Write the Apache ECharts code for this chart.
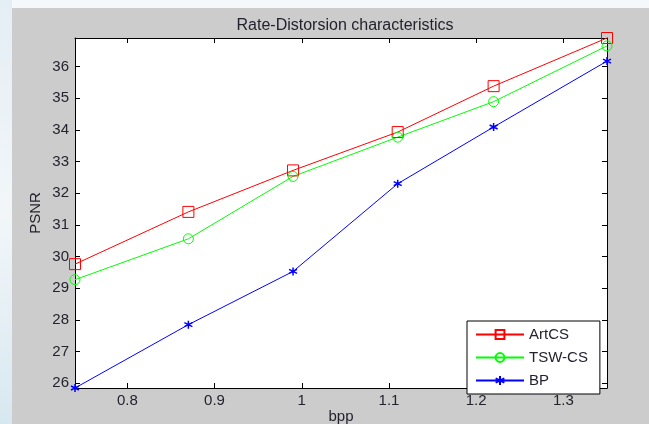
<!DOCTYPE html>
<html>
<head>
<meta charset="utf-8">
<script src="https://cdn.jsdelivr.net/npm/echarts@6/dist/echarts.min.js"></script>
<style>
html,body{margin:0;padding:0;background:#f4f8fb;}
#c{width:649px;height:424px;}
</style>
</head>
<body>
<div id="c"></div>
<script>
const bpp = [0.74, 0.87, 0.99, 1.11, 1.22, 1.35];
const artCS = [29.76, 31.41, 32.72, 33.93, 35.38, 36.9];
const tswCS = [29.27, 30.56, 32.53, 33.77, 34.89, 36.65];
const bp = [25.85, 27.85, 29.53, 32.3, 34.09, 36.17];
const xTicks = [0.8, 0.9, 1.0, 1.1, 1.2, 1.3];
const yTicks = [26, 27, 28, 29, 30, 31, 32, 33, 34, 35, 36];

const font = 'Liberation Sans, Arial, Helvetica, sans-serif';
const txt = '#232330';
const pair = a => bpp.map((x, i) => [x, a[i]]);
const star = 'path://M0,-5L0,5M-4.33,-2.5L4.33,2.5M-4.33,2.5L4.33,-2.5';

const chart = echarts.init(document.getElementById('c'));
function xAx(pos, labels) {
  return {
    type: 'value', position: pos, min: 0.74, max: 1.35,
    name: labels ? 'bpp' : '', nameLocation: 'middle', nameGap: 21, nameMoveOverlap: false,
    nameTextStyle: {fontFamily: font, fontSize: 15, color: txt},
    axisLine: {show: true, onZero: false, lineStyle: {color: '#000', width: 1}},
    axisTick: {show: true, inside: true, length: 5, customValues: xTicks, lineStyle: {color: '#000'}},
    axisLabel: {show: labels, customValues: xTicks, margin: 5, fontFamily: font, fontSize: 15, color: txt,
      formatter: v => String(+v.toFixed(2))},
    splitLine: {show: false}
  };
}
function yAx(pos, labels) {
  return {
    type: 'value', position: pos, min: 25.85, max: 36.9,
    name: labels ? 'PSNR' : '', nameLocation: 'middle', nameGap: 32, nameMoveOverlap: false,
    nameTextStyle: {fontFamily: font, fontSize: 15, color: txt},
    axisLine: {show: true, onZero: false, lineStyle: {color: '#000', width: 1}},
    axisTick: {show: true, inside: true, length: 5, customValues: yTicks, lineStyle: {color: '#000'}},
    axisLabel: {show: labels, customValues: yTicks, margin: 6, fontFamily: font, fontSize: 15, color: txt},
    splitLine: {show: false}
  };
}
chart.setOption({
  backgroundColor: '#cccccc',
  animation: false,
  graphic: [
    {type: 'rect', left: 0, top: 0, shape: {width: 649, height: 8}, style: {fill: '#f4f8fb'}, z: -10},
    {type: 'rect', left: 0, top: 0, shape: {width: 12, height: 424},
     style: {fill: new echarts.graphic.LinearGradient(0, 0, 0, 1, [
       {offset: 0, color: '#e4eef5'}, {offset: 0.5, color: '#f2f6f9'}, {offset: 1, color: '#d8e8f0'}])}, z: -10}
  ],
  title: {
    text: 'Rate-Distorsion characteristics', left: 340, top: 13, textAlign: 'center',
    textStyle: {fontFamily: font, fontSize: 16, fontWeight: 'normal', color: txt}
  },
  grid: {left: 75, top: 38, right: 42, bottom: 36, outerBoundsMode: 'none', containLabel: false,
    show: true, backgroundColor: '#ffffff', borderWidth: 0},
  xAxis: [xAx('bottom', true), xAx('top', false)],
  yAxis: [yAx('left', true), yAx('right', false)],
  legend: {
    orient: 'vertical', left: 467, top: 321,
    padding: [6, 12, 6, 8], itemGap: 8, itemWidth: 48, itemHeight: 11,
    backgroundColor: '#ffffff', borderColor: '#000', borderWidth: 1,
    textStyle: {fontFamily: font, fontSize: 15, color: txt},
    data: ['ArtCS', 'TSW-CS', 'BP']
  },
  series: [
    {name: 'ArtCS', type: 'line', data: pair(artCS), symbol: 'rect', symbolSize: 11,
     lineStyle: {color: '#ff0000', width: 1},
     itemStyle: {color: 'rgba(0,0,0,0)', borderColor: '#ff0000', borderWidth: 1}},
    {name: 'TSW-CS', type: 'line', data: pair(tswCS), symbol: 'circle', symbolSize: 10,
     lineStyle: {color: '#00ff00', width: 1},
     itemStyle: {color: 'rgba(0,0,0,0)', borderColor: '#00ff00', borderWidth: 1}},
    {name: 'BP', type: 'line', data: pair(bp), symbol: star, symbolSize: 8,
     lineStyle: {color: '#0000ff', width: 1},
     itemStyle: {color: 'rgba(0,0,0,0)', borderColor: '#0000ff', borderWidth: 1.5}}
  ]
});
</script>
</body>
</html>
